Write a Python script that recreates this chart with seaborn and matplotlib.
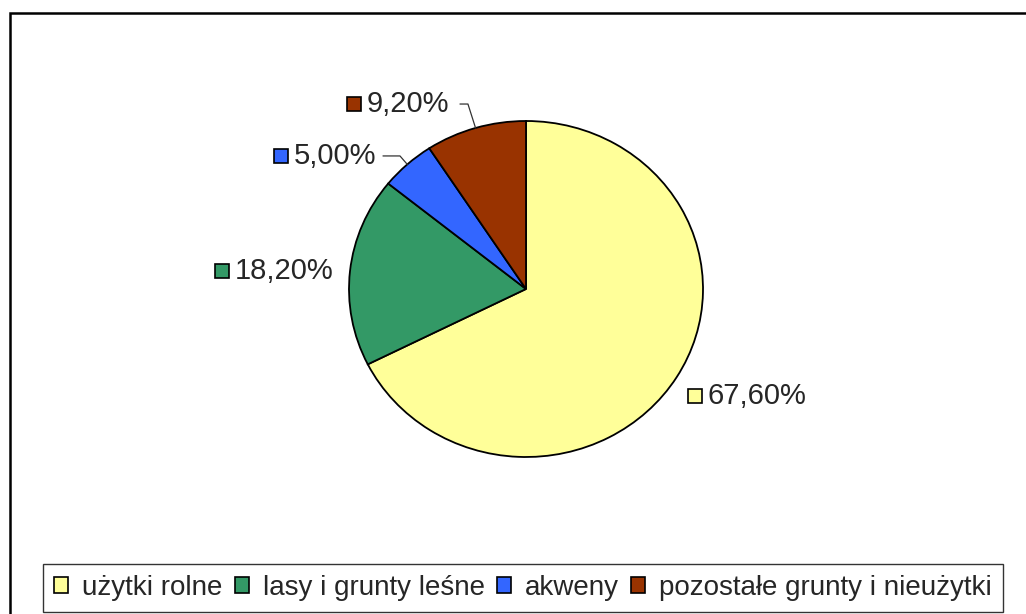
import matplotlib
matplotlib.use("Agg")
import numpy as np
import matplotlib.pyplot as plt
from matplotlib.patches import Rectangle, Patch
import seaborn as sns

# data
categories = ["użytki rolne", "lasy i grunty leśne", "akweny", "pozostałe grunty i nieużytki"]
shares = [67.6, 18.2, 5.0, 9.2]
labels = ["67,60%", "18,20%", "5,00%", "9,20%"]
colors = ["#FFFF99", "#339966", "#3366FF", "#993300"]

# layout (data units, pie radius = 1)
label_pos = [(0.955, -0.637), (-1.718, 0.107), (-1.384, 0.792), (-0.972, 1.101)]
leader = {2: [(-0.808, 0.792), (-0.712, 0.792)], 3: [(-0.373, 1.101), (-0.328, 1.101)]}

sns.set_style("white")
plt.rcParams["font.family"] = ["Liberation Sans", "DejaVu Sans"]

fig = plt.figure(figsize=(10.26, 6.14), dpi=100)
ax = fig.add_axes([0, 0, 1, 1])
wedges, _ = ax.pie(shares, colors=colors, startangle=90, counterclock=False,
                   wedgeprops=dict(edgecolor="black", linewidth=1.3))
ax.set_aspect("auto")
ax.set_xlim(-526 / 177, 500 / 177)
ax.set_ylim(-325 / 168, 289 / 168)
ax.axis("off")

# data labels with colour key
for i, (w, lab) in enumerate(zip(wedges, labels)):
    x, y = label_pos[i]
    ax.plot(x, y, marker="s", ms=10, mfc=colors[i], mec="black", mew=1.2, clip_on=False)
    ax.annotate(lab, (x, y), xytext=(9, 0), textcoords="offset points",
                ha="left", va="center", fontsize=21)
    if i in leader:
        mid = np.deg2rad((w.theta1 + w.theta2) / 2)
        pts = leader[i] + [(np.cos(mid), np.sin(mid))]
        ax.plot([p[0] for p in pts], [p[1] for p in pts], color="#333333", lw=0.9)

# outer chart frame
fig.patches.append(Rectangle((10 / 1026, -0.05), 1.1, 1 - 13 / 614 + 0.05,
                             transform=fig.transFigure, fill=False,
                             edgecolor="black", linewidth=1.8))

handles = [Patch(facecolor=c, edgecolor="black", linewidth=1.2) for c in colors]
leg = fig.legend(handles, categories, loc="center", ncol=4,
                 bbox_to_anchor=(523 / 1026, 1 - 588 / 614),
                 fontsize=20, frameon=True, fancybox=False,
                 handlelength=0.5, handleheight=0.5, handletextpad=0.5,
                 columnspacing=0.45, borderpad=0.4, borderaxespad=0)
leg.get_frame().set_edgecolor("black")
leg.get_frame().set_linewidth(1.0)

fig.savefig("out.png", dpi=100, facecolor="white")
